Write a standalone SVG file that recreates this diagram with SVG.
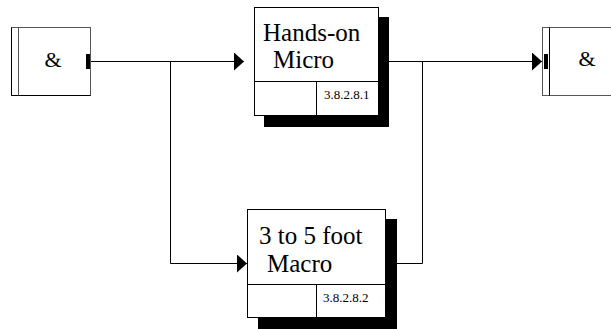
<svg xmlns="http://www.w3.org/2000/svg" width="611" height="329" viewBox="0 0 611 329">
<style>
.box{fill:#fff;stroke:#000;stroke-width:1}
.gbox{fill:#fff;stroke:#555;stroke-width:1}
.sh{fill:#000}
.ln{fill:none;stroke:#000;stroke-width:1}
text{font-family:'Liberation Serif','Times New Roman',serif;fill:#000}
.big{font-size:25px}
.amp{font-size:22px}
.num{font-size:13px}
</style>
<defs>
<marker id="arr" markerWidth="10" markerHeight="18" refX="10" refY="9" orient="auto" markerUnits="userSpaceOnUse">
<path d="M0,0 L10,9 L0,18 Z" fill="#000"/>
</marker>
</defs>
<g id="connectors">
<path class="ln" d="M90,61.5 H244" marker-end="url(#arr)"/>
<path class="ln" d="M170.5,61.5 V263.5 H247" marker-end="url(#arr)"/>
<path class="ln" d="M389,61.5 H542" marker-end="url(#arr)"/>
<path class="ln" d="M397,263.5 H422.5 V61.5"/>
</g>
<g id="and-left">
<rect class="gbox" x="11.5" y="27.5" width="79" height="68"/>
<line class="ln" x1="11.5" y1="27.5" x2="11.5" y2="95.5"/>
<line class="ln" x1="11.5" y1="95.5" x2="90.5" y2="95.5"/>
<line class="gbox" x1="18.5" y1="27.5" x2="18.5" y2="95.5"/>
<rect x="86" y="54" width="4" height="15" fill="#000"/>
<text class="amp" x="53" y="67" text-anchor="middle">&amp;</text>
</g>
<g id="micro">
<rect class="sh" x="264" y="17" width="125" height="110"/>
<rect class="box" x="254.5" y="7.5" width="124" height="108"/>
<line class="ln" x1="254.5" y1="81.5" x2="378.5" y2="81.5"/>
<line class="ln" x1="316.5" y1="81.5" x2="316.5" y2="115.5"/>
<text class="big" x="263" y="41">Hands-on</text>
<text class="big" x="273" y="68">Micro</text>
<text class="num" x="324" y="99">3.8.2.8.1</text>
</g>
<g id="macro">
<rect class="sh" x="258" y="219" width="139" height="110"/>
<rect class="box" x="247.5" y="209.5" width="138" height="108"/>
<line class="ln" x1="247.5" y1="284.5" x2="385.5" y2="284.5"/>
<line class="ln" x1="316.5" y1="284.5" x2="316.5" y2="317.5"/>
<text class="big" x="259" y="244">3 to 5 foot</text>
<text class="big" x="267" y="272">Macro</text>
<text class="num" x="323" y="302">3.8.2.8.2</text>
</g>
<g id="and-right">
<rect class="gbox" x="542.5" y="27.5" width="80" height="68"/>
<line class="ln" x1="549.5" y1="27.5" x2="549.5" y2="95.5"/>
<rect x="544" y="54" width="4" height="15" fill="#000"/>
<text class="amp" x="587" y="66" text-anchor="middle">&amp;</text>
</g>
</svg>
